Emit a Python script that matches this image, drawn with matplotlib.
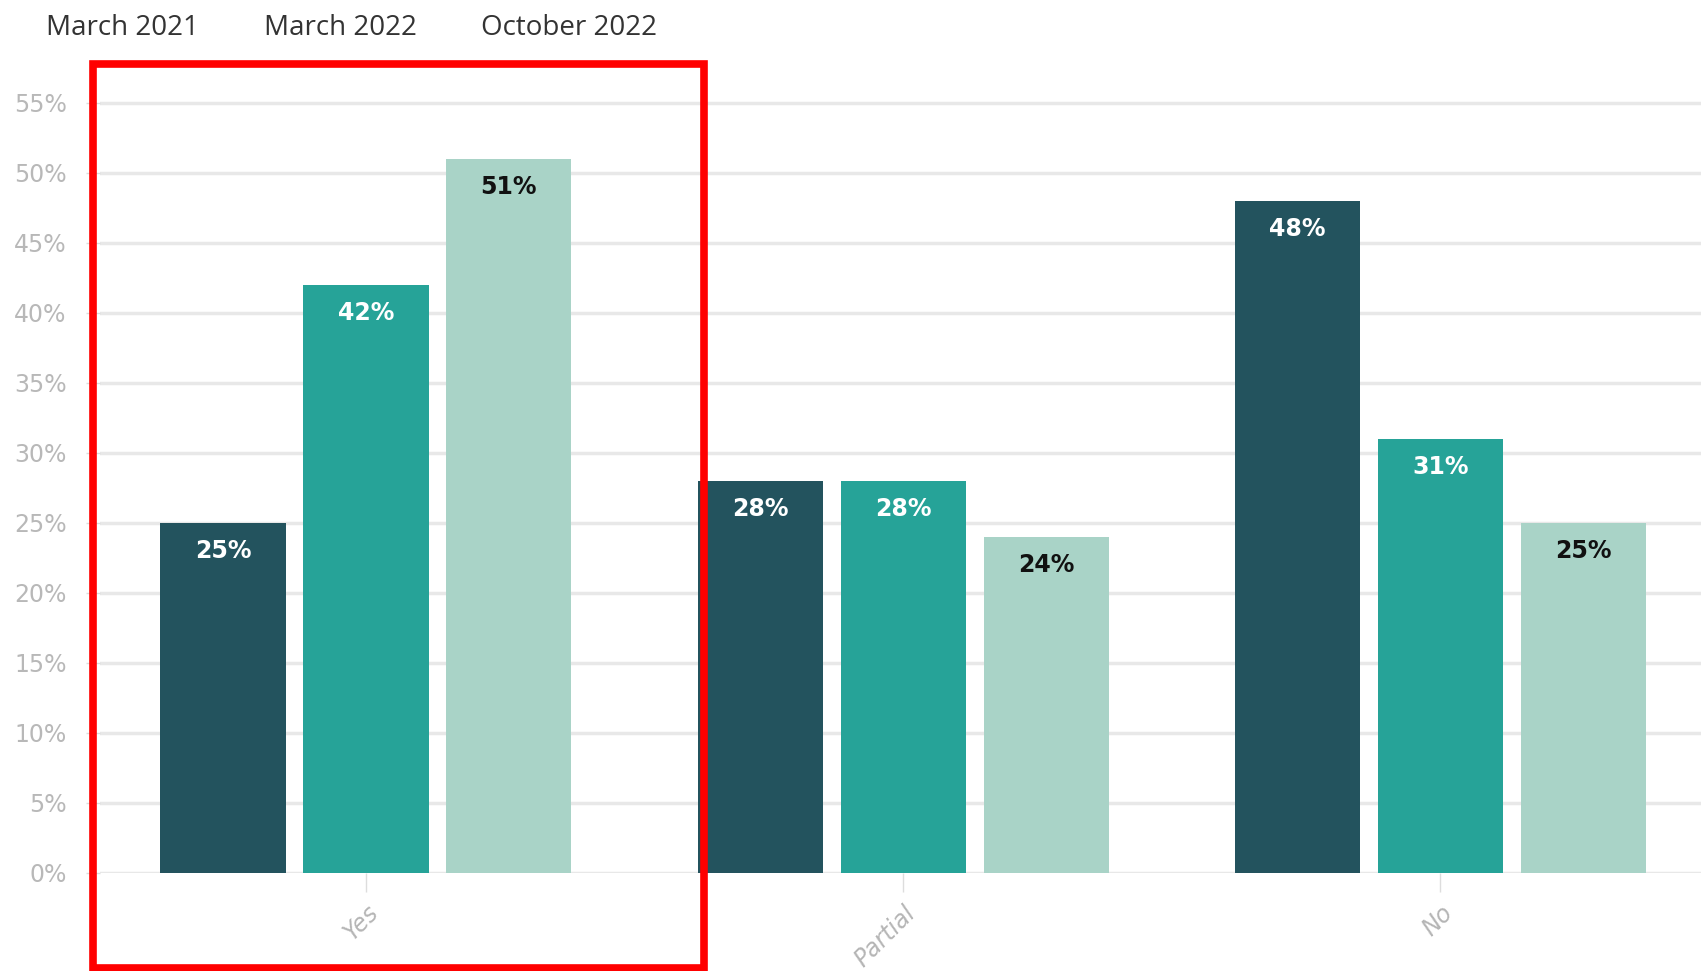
import matplotlib.pyplot as plt
import numpy as np
from matplotlib.patches import Rectangle

# ==========================================
# DATA
# ==========================================
categories = ["Yes", "Partial", "No"]
series_names = ["March 2021", "March 2022", "October 2022"]
march_2021 = [25, 28, 48]
march_2022 = [42, 28, 31]
october_2022 = [51, 24, 25]
y_ticks = [0, 5, 10, 15, 20, 25, 30, 35, 40, 45, 50, 55]

colors = ["#23535e", "#26a398", "#a9d3c7"]
label_colors = ["white", "white", "#111111"]

# ==========================================
# FIGURE
# ==========================================
fig = plt.figure(figsize=(17.01, 9.71), dpi=100)
ax = fig.add_axes([0.0588, 0.101, 0.9412, 0.822])

x = np.arange(len(categories))
pitch = 0.266
width = 0.233
all_series = [march_2021, march_2022, october_2022]

for i, values in enumerate(all_series):
    pos = x + (i - 1) * pitch
    ax.bar(pos, values, width=width, color=colors[i], zorder=3)
    for px, v in zip(pos, values):
        ax.annotate(f"{v}%", (px, v), xytext=(0, -20), textcoords="offset points",
                    ha="center", va="center", fontsize=17, fontweight="bold",
                    color=label_colors[i], zorder=4)

ax.set_xlim(-0.495, 2.485)
ax.set_ylim(0, 57)
ax.set_yticks(y_ticks)
ax.set_yticklabels([f"{t}%" for t in y_ticks])
ax.grid(axis="y", color="#e8e8e8", linewidth=2.5, zorder=0)
ax.set_axisbelow(True)

ax.set_xticks(x)
ax.set_xticklabels(categories, rotation=45, ha="right", rotation_mode="anchor",
                   fontsize=17, color="#b5b5b5", fontstyle="italic")
ax.tick_params(axis="x", length=14, color="#dddddd", width=1, pad=6)
ax.tick_params(axis="y", length=10, color="#dddddd", width=1, labelsize=17,
               labelcolor="#b8b8b8", pad=14)
for s in ax.spines.values():
    s.set_visible(False)

# legend (text only, top left)
legend_x = [0.027, 0.155, 0.283]
for lx, name in zip(legend_x, series_names):
    fig.text(lx, 0.971, name, fontsize=20, color="#333333", ha="left", va="center",
             family="Open Sans")

# red highlight box around the "Yes" group
fig.patches.append(Rectangle((0.0545, 0.003), 0.3595, 0.931, transform=fig.transFigure,
                             fill=False, edgecolor="#ff0000", linewidth=5.5, zorder=10))

plt.savefig("out.png", dpi=100)
